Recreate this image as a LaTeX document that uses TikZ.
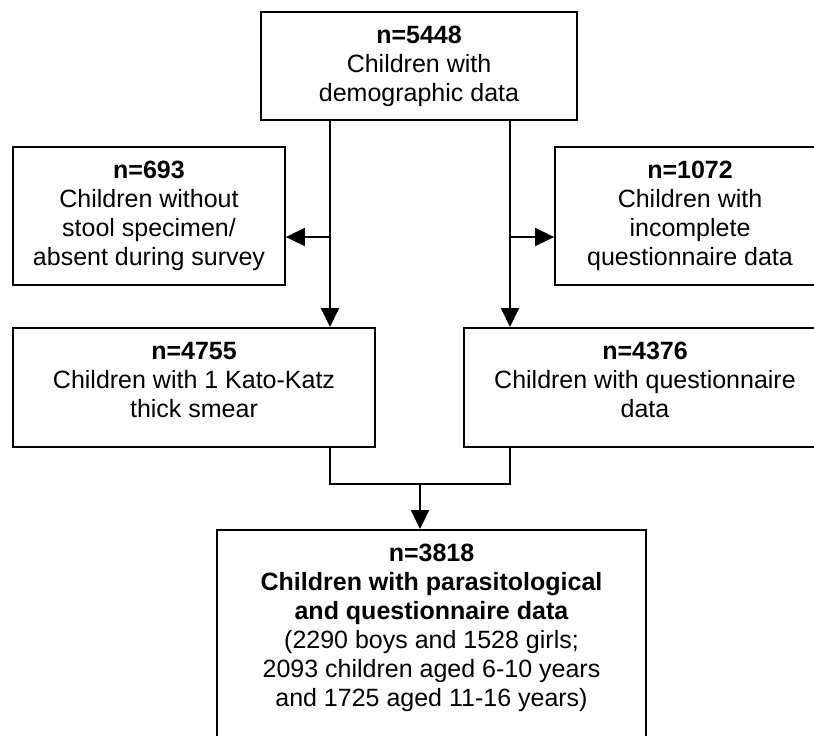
\documentclass[tikz,border=0pt]{standalone}
\usepackage{fontspec}
\setmainfont{Liberation Sans}
\usetikzlibrary{arrows.meta}
\tikzset{
	flowbox/.style={
			draw, line width=0.9pt, anchor=north, align=center,
			inner xsep=2pt, inner ysep=7pt, text depth=#1,
			font=\fontsize{12.5}{14.5}\selectfont
		},
	flowbox/.default=2.5pt
}

\begin{document}
\begin{tikzpicture}[x=0.5pt, y=-0.5pt, line width=0.9pt,
		>={Triangle[length=9.5pt, width=9pt]}]
	\useasboundingbox (0,0) rectangle (814,735);
	\clip (0,0) rectangle (814,735);

	\node[flowbox, minimum width=158pt] (n5448) at (419,11)
		{\textbf{n=5448}\\Children with\\demographic data};
	\node[flowbox=3pt, minimum width=136pt] (n693) at (149,146)
		{\textbf{n=693}\\Children without\\stool specimen/\\absent during survey};
	% right boxes run past the page edge
	\node[flowbox=3pt, minimum width=135pt] (n1072) at (690,146)
		{\textbf{n=1072}\\Children with\\incomplete\\questionnaire data};
	\node[flowbox=8pt, minimum width=181pt] (n4755) at (194,327)
		{\textbf{n=4755}\\Children with 1 Kato-Katz\\thick smear};
	\node[flowbox=8pt, minimum width=181pt] (n4376) at (645,327)
		{\textbf{n=4376}\\Children with questionnaire\\data};
	\node[flowbox=20pt, minimum width=214.5pt] (n3818) at (431.5,529)
		{\textbf{n=3818}\\\textbf{Children with parasitological}\\\textbf{and questionnaire data}\\
		(2290 boys and 1528 girls;\\2093 children aged 6-10 years\\and 1725 aged 11-16 years)};

	\coordinate (lsplit) at (330,237);
	\coordinate (rsplit) at (510,237);
	\coordinate (merge) at (420,484);

	\draw[->] (n5448.south -| lsplit) -- (n4755.north -| lsplit);
	\draw[->] (lsplit) -- (lsplit -| n693.east);
	\draw[->] (n5448.south -| rsplit) -- (n4376.north -| rsplit);
	\draw[->] (rsplit) -- (rsplit -| n1072.west);
	\draw (n4755.south -| lsplit) |- (merge) -| (n4376.south -| rsplit);
	\draw[->] (merge) -- (merge |- n3818.north);
\end{tikzpicture}
\end{document}
